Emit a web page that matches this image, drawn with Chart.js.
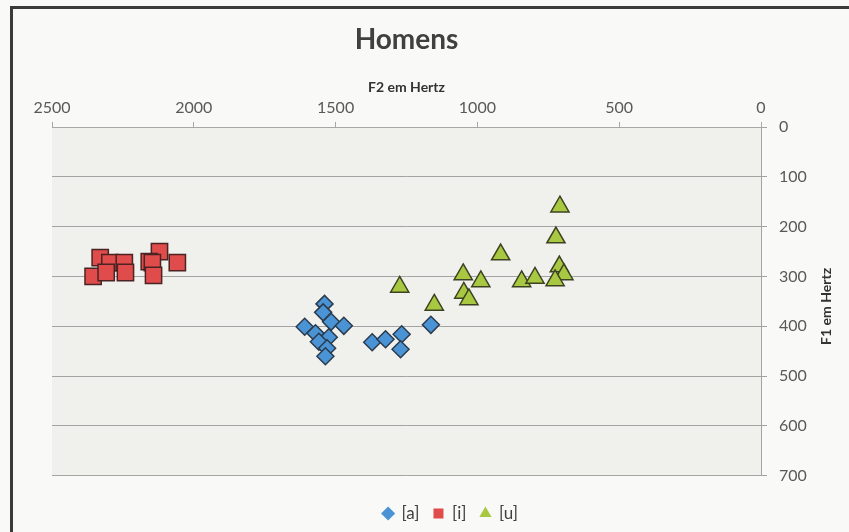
<!DOCTYPE html>
<html>
<head>
<meta charset="utf-8">
<title>Homens</title>
<script src="https://cdn.jsdelivr.net/npm/chart.js@4.4.0/dist/chart.umd.min.js"></script>
<style>
  html, body { margin: 0; padding: 0; background: #f9f9f7; overflow: hidden; }
  #wrap { position: relative; width: 849px; height: 532px; }
  #frame { position: absolute; left: 10px; top: 6px; width: 900px; height: 600px; border: 3px solid #3b3b3b; box-sizing: border-box; }
  #chart { position: absolute; left: 0; top: 0; }
</style>
</head>
<body>
<div id="wrap">
  <div id="frame"></div>
  <canvas id="chart" width="849" height="532"></canvas>
</div>
<script>
// F2 (x) e F1 (y) em Hertz
const aF2 = [1539, 1544, 1516, 1471, 1609, 1571, 1524, 1559, 1530, 1536, 1371, 1324, 1267, 1271, 1164];
const aF1 = [355, 372, 391, 399, 401, 414, 422, 431, 444, 460, 432, 426, 416, 446, 397];

const iF2 = [2330, 2296, 2245, 2355, 2309, 2241, 2121, 2157, 2146, 2142, 2058];
const iF1 = [262, 272, 272, 300, 292, 292, 250, 270, 272, 298, 272];

const uF2 = [709, 723, 918, 1050, 988, 1274, 1048, 1030, 1152, 844, 797, 711, 695, 726];
const uF1 = [160, 222, 256, 296, 310, 321, 333, 346, 357, 310, 303, 280, 296, 308];

const seriesNames = ['[a]', '[i]', '[u]'];
const xTicks = [0, 500, 1000, 1500, 2000, 2500];
const yTicks = [0, 100, 200, 300, 400, 500, 600, 700];

const FONT = "Lato, 'Open Sans', sans-serif";

function toPoints(xs, ys) {
  return xs.map((x, i) => ({ x: x, y: ys[i] }));
}

// fundo cinza da área do gráfico
const plotBg = {
  id: 'plotBg',
  beforeDraw(chart) {
    const { ctx, chartArea: a } = chart;
    ctx.save();
    ctx.fillStyle = '#f0f0ed';
    ctx.fillRect(a.left, a.top, a.right - a.left, a.bottom - a.top);
    ctx.restore();
  }
};

// título do eixo y, lido de baixo para cima
const yTitle = {
  id: 'yTitle',
  afterDraw(chart) {
    const { ctx, chartArea: a } = chart;
    ctx.save();
    ctx.translate(826, (a.top + a.bottom) / 2 + 5);
    ctx.rotate(-Math.PI / 2);
    ctx.font = "bold 14px " + FONT;
    ctx.fillStyle = '#333333';
    ctx.textAlign = 'center';
    ctx.textBaseline = 'middle';
    ctx.fillText('F1 em Hertz', 0, 0);
    ctx.restore();
  }
};

new Chart(document.getElementById('chart').getContext('2d'), {
  type: 'scatter',
  data: {
    datasets: [
      {
        label: seriesNames[0],
        data: toPoints(aF2, aF1),
        pointStyle: 'rectRot',
        pointRadius: 8.5,
        backgroundColor: '#4a94d6',
        borderColor: '#2b3b4c',
        borderWidth: 1.5
      },
      {
        label: seriesNames[1],
        data: toPoints(iF2, iF1),
        pointStyle: 'rect',
        pointRadius: 11.5,
        backgroundColor: '#e04b4b',
        borderColor: '#4a2323',
        borderWidth: 1.5
      },
      {
        label: seriesNames[2],
        data: toPoints(uF2, uF1),
        pointStyle: 'triangle',
        pointRadius: 10.5,
        backgroundColor: '#a7c840',
        borderColor: '#3c4222',
        borderWidth: 1.5
      }
    ]
  },
  options: {
    responsive: false,
    animation: false,
    layout: { padding: { left: 52, right: 0, top: 0, bottom: 0 } },
    plugins: {
      title: {
        display: true,
        fullSize: false,
        text: 'Homens',
        color: '#404040',
        font: { family: FONT, size: 28, weight: 'bold' },
        padding: { top: 23, bottom: 0 }
      },
      legend: {
        position: 'bottom',
        title: { display: true, text: ' ', font: { size: 1 }, padding: { top: 14, bottom: 0 } },
        labels: {
          usePointStyle: true,
          boxWidth: 10,
          boxHeight: 10,
          padding: 14,
          color: '#404040',
          font: { family: FONT, size: 17 },
          generateLabels: chart => Chart.defaults.plugins.legend.labels.generateLabels(chart)
            .map(l => Object.assign(l, { lineWidth: 0 }))
        }
      },
      tooltip: { enabled: false }
    },
    scales: {
      x: {
        type: 'linear',
        position: 'top',
        reverse: true,
        min: xTicks[0],
        max: xTicks[xTicks.length - 1],
        afterBuildTicks: s => { s.ticks = xTicks.map(v => ({ value: v })); },
        afterFit: s => { s.height = 70.4; },
        title: {
          display: true,
          text: 'F2 em Hertz',
          color: '#333333',
          font: { family: FONT, size: 14, weight: 'bold' },
          padding: { top: 22, bottom: 0 }
        },
        ticks: {
          color: '#595959',
          font: { family: FONT, size: 16 },
          padding: 5,
          maxRotation: 0,
          callback: v => String(v)
        },
        grid: { drawOnChartArea: false, tickLength: 5, color: '#a8a8a8' },
        border: { color: '#a8a8a8' }
      },
      y: {
        type: 'linear',
        position: 'right',
        reverse: true,
        min: yTicks[0],
        max: yTicks[yTicks.length - 1],
        afterBuildTicks: s => { s.ticks = yTicks.map(v => ({ value: v })); },
        afterFit: s => { s.width = 88; },
        ticks: { color: '#595959', font: { family: FONT, size: 16 }, padding: 12, callback: v => String(v) },
        grid: { color: '#a3a3a3', tickLength: 6 },
        border: { color: '#a3a3a3' }
      }
    }
  },
  plugins: [plotBg, yTitle]
});
</script>
</body>
</html>
